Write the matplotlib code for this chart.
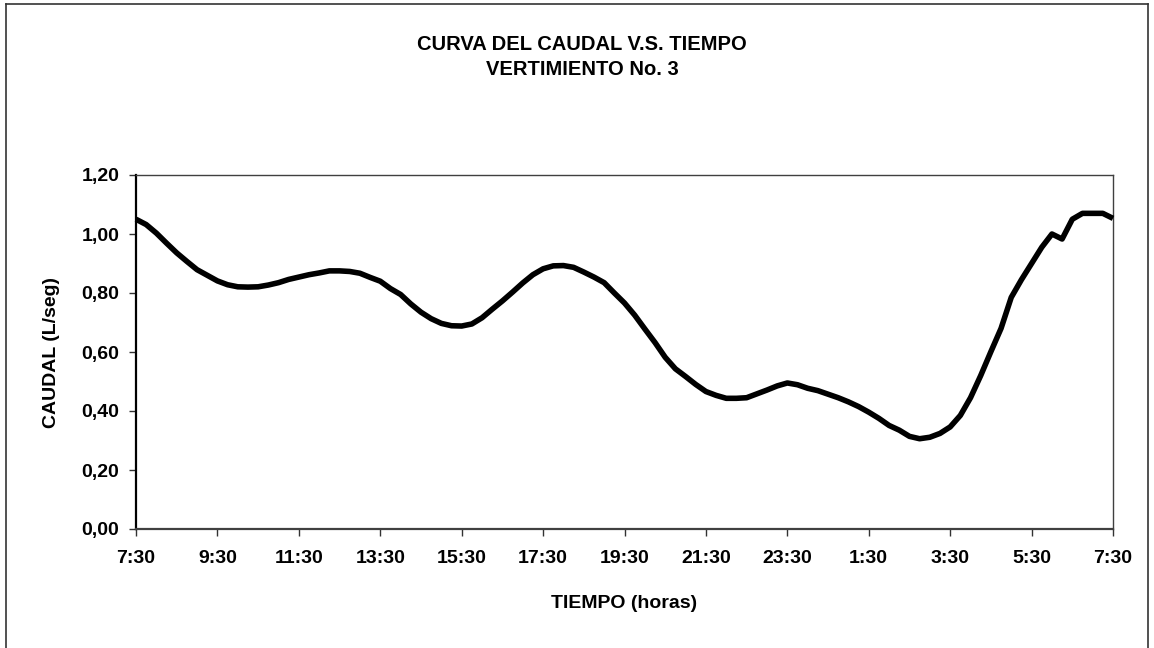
import matplotlib
matplotlib.use("Agg")
import matplotlib.pyplot as plt
from matplotlib.lines import Line2D
from matplotlib.ticker import FuncFormatter, FixedLocator

plt.rcParams['font.family'] = ['Liberation Sans', 'DejaVu Sans']

# Caudal (L/seg) every 15 minutes from 7:30 to 7:30 next day (97 readings)
caudal = [
    1.050, 1.032, 1.003, 0.969, 0.936, 0.907, 0.879, 0.860, 0.841, 0.828,
    0.821, 0.820, 0.821, 0.827, 0.835, 0.846, 0.854, 0.862, 0.868, 0.875,
    0.875, 0.873, 0.867, 0.853, 0.840, 0.815, 0.795, 0.763, 0.735, 0.713,
    0.697, 0.689, 0.688, 0.695, 0.716, 0.745, 0.773, 0.803, 0.834, 0.862,
    0.882, 0.892, 0.893, 0.887, 0.871, 0.854, 0.835, 0.800, 0.766, 0.725,
    0.678, 0.632, 0.582, 0.543, 0.517, 0.490, 0.466, 0.453, 0.443, 0.443,
    0.445, 0.458, 0.471, 0.485, 0.495, 0.489, 0.477, 0.469, 0.457, 0.445,
    0.431, 0.415, 0.396, 0.375, 0.351, 0.335, 0.314, 0.306, 0.311, 0.324,
    0.346, 0.385, 0.445, 0.520, 0.601, 0.680, 0.785, 0.845, 0.900, 0.955,
    1.000, 0.983, 1.050, 1.070, 1.070, 1.070, 1.053,
]
tick_labels = ["7:30", "9:30", "11:30", "13:30", "15:30", "17:30", "19:30",
               "21:30", "23:30", "1:30", "3:30", "5:30", "7:30"]
y_ticks = [0.0, 0.2, 0.4, 0.6, 0.8, 1.0, 1.2]

title = "CURVA DEL CAUDAL V.S. TIEMPO\nVERTIMIENTO No. 3"
xlabel = "TIEMPO (horas)"
ylabel = "CAUDAL (L/seg)"

W, H = 1154, 648
fig = plt.figure(figsize=(W / 100, H / 100), dpi=100)
fig.patch.set_facecolor("white")

left, right, top, bottom = 136, 1113, 175, 529
ax = fig.add_axes([left / W, 1 - bottom / H, (right - left) / W, (bottom - top) / H])

x = list(range(len(caudal)))
ax.plot(x, caudal, color="black", lw=4.0, solid_joinstyle="round",
        solid_capstyle="butt", clip_on=False, zorder=3)

ax.set_xlim(0, len(caudal) - 1)
ax.set_ylim(0, 1.2)
ax.xaxis.set_major_locator(FixedLocator(list(range(0, len(caudal), 8))))
ax.set_xticklabels(tick_labels)
ax.set_yticks(y_ticks)
ax.yaxis.set_major_formatter(FuncFormatter(lambda v, p: f"{v:.2f}".replace(".", ",")))

for lab in ax.get_xticklabels() + ax.get_yticklabels():
    lab.set_fontweight("bold")
    lab.set_fontsize(14)
ax.tick_params(axis="x", direction="out", length=5, width=1.0, color="#333333", pad=10)
ax.tick_params(axis="y", direction="out", length=5, width=1.0, color="#333333", pad=7)

ax.spines["left"].set_color("black")
ax.spines["left"].set_linewidth(1.6)
ax.spines["bottom"].set_color("#404040")
ax.spines["bottom"].set_linewidth(1.6)
for s in ("top", "right"):
    ax.spines[s].set_color("#404040")
    ax.spines[s].set_linewidth(1.0)

fig.text(((left + right) / 2) / W, 1 - 604 / H, xlabel, ha="center", va="center",
         fontsize=14, fontweight="bold")
fig.text(52 / W, 1 - ((top + bottom) / 2) / H, ylabel, rotation=90,
         ha="center", va="center", fontsize=14, fontweight="bold")
fig.text(582 / W, 1 - 57 / H, title, ha="center", va="center",
         fontsize=14.5, fontweight="bold", linespacing=1.45)

# outer chart frame
fig.add_artist(Line2D([6 / W, 6 / W], [0, 1 - 4 / H], color="#333333", lw=1.2))
fig.add_artist(Line2D([6 / W, 1148 / W], [1 - 4 / H, 1 - 4 / H], color="#333333", lw=1.2))
fig.add_artist(Line2D([1148 / W, 1148 / W], [0, 1 - 4 / H], color="#333333", lw=1.2))

fig.savefig("out.png", dpi=100, facecolor="white")
